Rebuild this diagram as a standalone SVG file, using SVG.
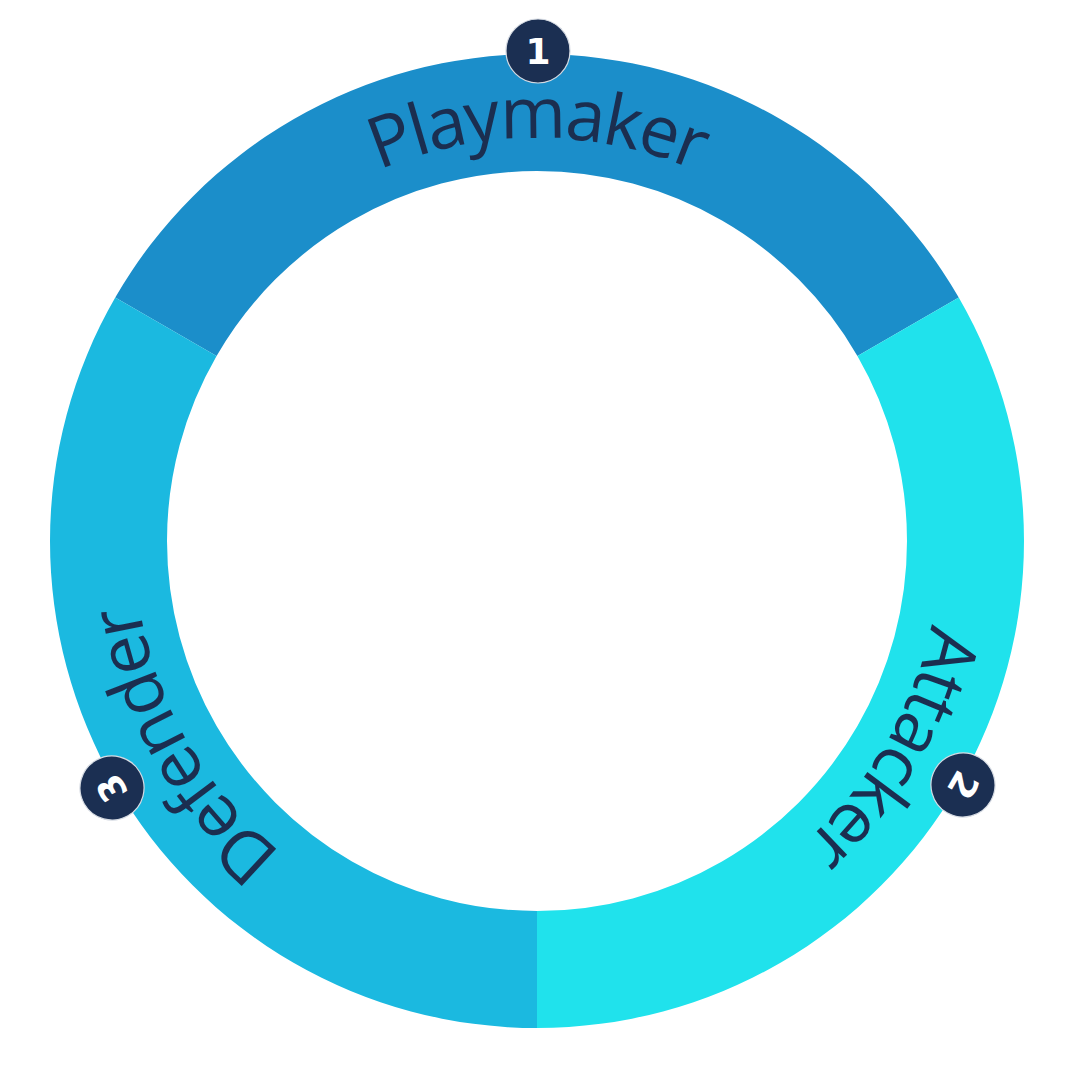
<svg xmlns="http://www.w3.org/2000/svg" xmlns:xlink="http://www.w3.org/1999/xlink" width="1080" height="1080" viewBox="0 0 1080 1080">
  <style>
    .label { font-family: "Open Sans", "Noto Sans", sans-serif; font-size: 71px; letter-spacing: -2.5px; fill: #1B2E50; }
    .badge circle { fill: #1B2F52; stroke: #D5DAE2; stroke-width: 1.2; }
    .badge text { font-family: "DejaVu Sans", sans-serif; font-weight: bold; font-size: 36px; fill: #FFFFFF; text-anchor: middle; dominant-baseline: central; }
  </style>
  <defs>
    <path id="arcTop" d="M 188 339.5 A 403 403 0 0 1 886 339.5"/>
    <path id="arcRight" d="M 886 339.5 A 403 403 0 0 1 537 944"/>
    <path id="arcLeft" d="M 537 944 A 403 403 0 0 1 188 339.5"/>
  </defs>
  <rect width="1080" height="1080" fill="#FFFFFF"/>
  <g id="playmaker">
    <path d="M 115.25 297.5 A 487 487 0 0 1 958.75 297.5 L 857.43 356 A 370 370 0 0 0 216.57 356 Z" fill="#1B8ECA"/>
    <text class="label"><textPath xlink:href="#arcTop" href="#arcTop" startOffset="50%" text-anchor="middle">Playmaker</textPath></text>
  </g>
  <g id="attacker">
    <path d="M 958.75 297.5 A 487 487 0 0 1 537 1028 L 537 911 A 370 370 0 0 0 857.43 356 Z" fill="#20E2EC"/>
    <text class="label"><textPath xlink:href="#arcRight" href="#arcRight" startOffset="50%" text-anchor="middle">Attacker</textPath></text>
  </g>
  <g id="defender">
    <path d="M 537 1028 A 487 487 0 0 1 115.25 297.5 L 216.57 356 A 370 370 0 0 0 537 911 Z" fill="#1BB9E0"/>
    <text class="label"><textPath xlink:href="#arcLeft" href="#arcLeft" startOffset="50%" text-anchor="middle">Defender</textPath></text>
  </g>
  <g id="badge1" class="badge" transform="translate(538 51)">
    <circle r="32"/>
    <text>1</text>
  </g>
  <g id="badge2" class="badge" transform="translate(963 785) rotate(120)">
    <circle r="32"/>
    <text>2</text>
  </g>
  <g id="badge3" class="badge" transform="translate(112 788) rotate(240)">
    <circle r="32"/>
    <text>3</text>
  </g>
  <g id="connectors"/>
</svg>
